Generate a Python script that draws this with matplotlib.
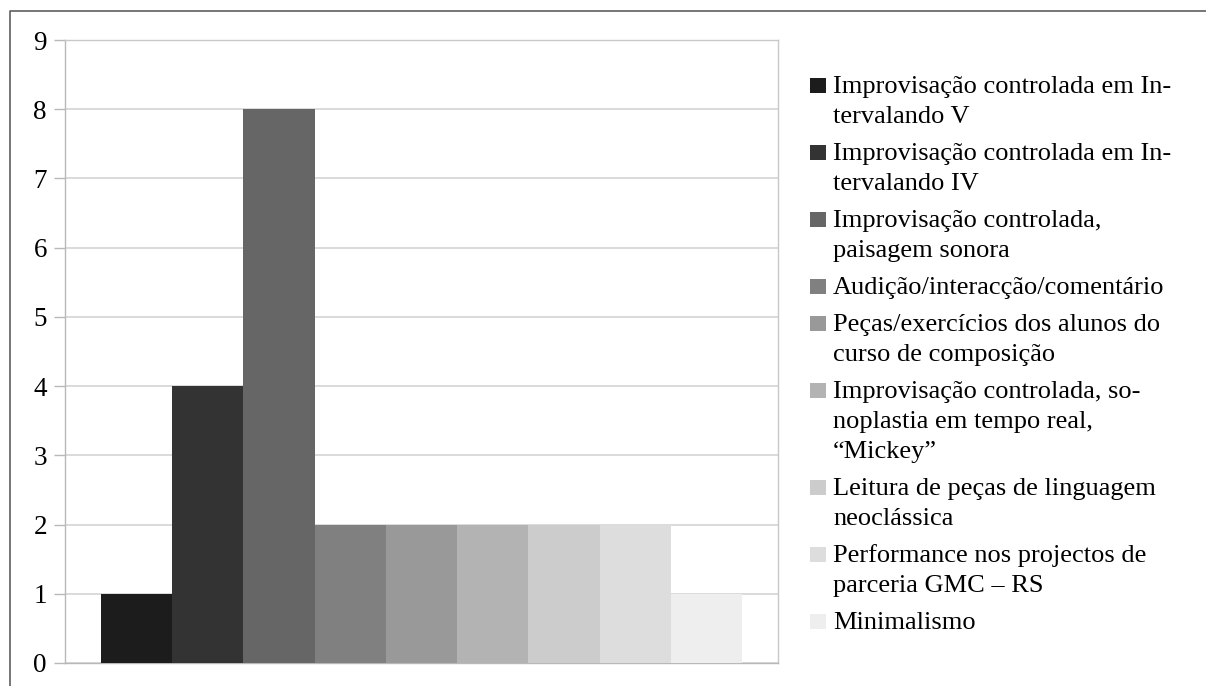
import matplotlib
matplotlib.use("Agg")
import matplotlib.pyplot as plt
from matplotlib.patches import Rectangle
from matplotlib.lines import Line2D

# Activity categories (legend lines, pre-wrapped) and their counts
labels = [
    ["Improvisação controlada em In-", "tervalando V"],
    ["Improvisação controlada em In-", "tervalando IV"],
    ["Improvisação controlada,", "paisagem sonora"],
    ["Audição/interacção/comentário"],
    ["Peças/exercícios dos alunos do", "curso de composição"],
    ["Improvisação controlada, so-", "noplastia em tempo real,", "“Mickey”"],
    ["Leitura de peças de linguagem", "neoclássica"],
    ["Performance nos projectos de", "parceria GMC – RS"],
    ["Minimalismo"],
]
values = [1, 4, 8, 2, 2, 2, 2, 2, 1]
colors = ["#1c1c1c", "#333333", "#666666", "#808080", "#999999",
          "#b3b3b3", "#cccccc", "#dddddd", "#eeeeee"]
yticks = list(range(0, 10))

W, H = 1206, 686
DPI = 100
plt.rcParams["font.family"] = ["Liberation Serif", "DejaVu Serif"]

fig = plt.figure(figsize=(W / DPI, H / DPI), dpi=DPI)

# plot area in pixel units (top-origin)
left_px, right_px, top_px, bottom_px = 65, 778, 40, 663
ax = fig.add_axes([left_px / W, (H - bottom_px) / H,
                   (right_px - left_px) / W, (bottom_px - top_px) / H])

xpos = list(range(len(values)))
ax.bar(xpos, values, width=1.0, color=colors, linewidth=0, zorder=3)

ax.set_xlim(-1, len(values))
ax.set_ylim(0, 9)
ax.set_yticks(yticks)
ax.set_yticklabels([str(v) for v in yticks], fontsize=19.5)
ax.set_xticks([])
ax.yaxis.grid(True, color="#d4d4d4", linewidth=1.2, zorder=0)
ax.tick_params(axis="y", length=8, width=1.0, color="#b8b8b8", pad=5,
               labelcolor="black")
for side in ["left", "bottom"]:
    ax.spines[side].set_color("#b8b8b8")
    ax.spines[side].set_linewidth(1.0)
for side in ["top", "right"]:
    ax.spines[side].set_color("#c8c8c8")
    ax.spines[side].set_linewidth(1.0)

# legend drawn line by line, marker aligned with the first line
def px(x, y):
    return x / W, (H - y) / H

baseline = 93
line_step = 30
entry_gap = 37
for lines, col in zip(labels, colors):
    mx, my = px(810, baseline)
    fig.add_artist(Rectangle((mx, my), 16 / W, 15 / H, transform=fig.transFigure,
                             facecolor=col, edgecolor="none"))
    for i, line in enumerate(lines):
        tx, ty = px(833, baseline + i * line_step)
        fig.text(tx, ty, line, fontsize=19, va="baseline", ha="left",
                 color="black")
    baseline += (len(lines) - 1) * line_step + entry_gap

# outer chart frame (left and top edges)
x0, y0 = px(10, H)
x1, y1 = px(10, 11)
x2, y2 = px(W, 11)
fig.add_artist(Line2D([x0, x1, x2], [y0, y1, y2], transform=fig.transFigure,
                      color="#5f5f5f", linewidth=1.2))

fig.savefig("out.png", dpi=DPI)
